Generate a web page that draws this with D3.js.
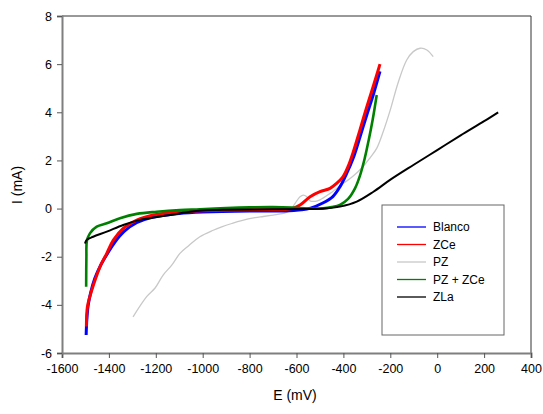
<!DOCTYPE html>
<html>
<head>
<meta charset="utf-8">
<script src="https://cdn.jsdelivr.net/npm/d3@7"></script>
<style>
  body { margin: 0; background: #fff; }
  svg { font-family: "Liberation Sans", Arial, sans-serif; }
</style>
</head>
<body>
<div id="chart"></div>
<script>
// tick values
var xTicks = [-1600, -1400, -1200, -1000, -800, -600, -400, -200, 0, 200, 400];
var yTicks = [-6, -4, -2, 0, 2, 4, 6, 8];

// series: [E (mV), I (mA)]
var blanco = [[-1497,-5.25],[-1494,-4.6],[-1488,-4.0],[-1478,-3.5],[-1460,-2.9],[-1435,-2.35],[-1405,-1.85],[-1375,-1.4],[-1335,-0.95],[-1280,-0.58],[-1210,-0.35],[-1100,-0.2],[-1000,-0.14],[-800,-0.1],[-650,-0.1],[-580,-0.05],[-540,0.02],[-490,0.22],[-445,0.5],[-415,0.9],[-386,1.46],[-358,2.1],[-330,2.95],[-300,3.9],[-272,4.75],[-244,5.7]];
var zce = [[-1496,-4.9],[-1492,-4.1],[-1481,-3.65],[-1459,-2.97],[-1438,-2.42],[-1409,-1.86],[-1381,-1.31],[-1339,-0.82],[-1281,-0.48],[-1211,-0.27],[-1100,-0.13],[-1000,-0.09],[-800,-0.05],[-650,-0.04],[-620,0.0],[-585,0.15],[-542,0.49],[-500,0.7],[-457,0.84],[-429,1.05],[-402,1.32],[-380,1.75],[-358,2.35],[-330,3.25],[-301,4.2],[-272,5.1],[-244,6.0]];
var pz = [[-1297,-4.5],[-1239,-3.66],[-1203,-3.3],[-1168,-2.75],[-1132,-2.35],[-1097,-1.86],[-1061,-1.55],[-1012,-1.17],[-955,-0.9],[-919,-0.76],[-876,-0.62],[-834,-0.5],[-777,-0.38],[-742,-0.33],[-700,-0.27],[-656,-0.2],[-628,-0.09],[-606,0.22],[-585,0.49],[-571,0.56],[-557,0.5],[-542,0.32],[-520,0.3],[-500,0.36],[-457,0.63],[-400,1.05],[-358,1.35],[-315,1.76],[-287,2.1],[-258,2.5],[-230,3.2],[-200,4.1],[-166,5.25],[-130,6.17],[-102,6.52],[-73,6.66],[-44,6.59],[-17,6.31]];
var pzZce = [[-1497,-3.25],[-1496,-2.0],[-1494,-1.35],[-1481,-1.03],[-1452,-0.75],[-1409,-0.61],[-1353,-0.4],[-1281,-0.22],[-1196,-0.13],[-1097,-0.06],[-1012,-0.03],[-900,0.02],[-800,0.05],[-700,0.06],[-620,0.04],[-550,0.0],[-487,0.01],[-450,0.06],[-415,0.15],[-380,0.4],[-350,0.85],[-330,1.35],[-310,2.05],[-292,2.85],[-275,3.7],[-258,4.72]];
var zla = [[-1502,-1.45],[-1495,-1.3],[-1467,-1.17],[-1409,-0.96],[-1339,-0.68],[-1267,-0.47],[-1168,-0.31],[-1054,-0.13],[-1000,-0.08],[-900,-0.05],[-700,-0.03],[-550,-0.02],[-480,0.0],[-415,0.08],[-343,0.29],[-272,0.70],[-201,1.19],[-100,1.82],[0,2.43],[100,3.04],[200,3.63],[260,4.0]];

var seriesNames = ["Blanco", "ZCe", "PZ", "PZ + ZCe", "ZLa"];
var seriesColors = ["#0000ff", "#ff0000", "#c8c8c8", "#008000", "#000000"];

var svgW = 543, svgH = 414;
var margin = {top: 16, right: 12, bottom: 61, left: 62};
var width = 531 - margin.left,
    height = 353 - margin.top;

var svg = d3.select("#chart").append("svg")
    .attr("width", svgW)
    .attr("height", svgH);

var g = svg.append("g")
    .attr("transform", "translate(" + margin.left + "," + margin.top + ")");

var x = d3.scaleLinear().domain([-1600, 400]).range([0, width]);
var y = d3.scaleLinear().domain([-6, 8]).range([height, 0]);

// frame (top and right)
g.append("path")
    .attr("d", "M0,0H" + width + "V" + height)
    .attr("fill", "none")
    .attr("stroke", "#333")
    .attr("stroke-width", 1);

var line = d3.line()
    .x(function(d) { return x(d[0]); })
    .y(function(d) { return y(d[1]); })
    .curve(d3.curveCatmullRom.alpha(0.5));

// draw order: light grey underneath
var drawList = [
    {data: pz, color: seriesColors[2], w: 1.3},
    {data: blanco, color: seriesColors[0], w: 3},
    {data: zce, color: seriesColors[1], w: 3},
    {data: pzZce, color: seriesColors[3], w: 2.6},
    {data: zla, color: seriesColors[4], w: 2}
];
drawList.forEach(function(s) {
    g.append("path")
        .attr("d", line(s.data))
        .attr("fill", "none")
        .attr("stroke", s.color)
        .attr("stroke-width", s.w)
        .attr("stroke-linejoin", "round");
});

// axes (plain hyphen for negatives, like the original)
var fmt = function(d) { return String(d); };
var xAxis = g.append("g")
    .attr("transform", "translate(0," + height + ")")
    .call(d3.axisBottom(x).tickValues(xTicks).tickSize(5).tickPadding(6).tickFormat(fmt));
var yAxis = g.append("g")
    .call(d3.axisLeft(y).tickValues(yTicks).tickSize(5).tickPadding(5).tickFormat(fmt));

[xAxis, yAxis].forEach(function(a) {
    a.select(".domain").attr("stroke", "#7f7f7f").attr("stroke-width", 2);
    a.selectAll(".tick line").attr("stroke", "#555");
    a.selectAll(".tick text")
        .attr("fill", "#000")
        .style("font-family", "'Liberation Sans', Arial, sans-serif")
        .style("font-size", "12.5px");
});

// axis titles
svg.append("text")
    .attr("x", 295).attr("y", 400)
    .attr("text-anchor", "middle")
    .style("font-size", "14px")
    .text("E (mV)");
svg.append("text")
    .attr("transform", "translate(22,185) rotate(-90)")
    .attr("text-anchor", "middle")
    .style("font-size", "14px")
    .text("I (mA)");

// legend
var legend = svg.append("g").attr("transform", "translate(382,205)");
legend.append("rect")
    .attr("width", 122).attr("height", 130)
    .attr("fill", "#fff")
    .attr("stroke", "#666")
    .attr("stroke-width", 1);
seriesNames.forEach(function(name, i) {
    var yy = 22 + i * 17.5;
    legend.append("line")
        .attr("x1", 15).attr("x2", 44)
        .attr("y1", yy).attr("y2", yy)
        .attr("stroke", seriesColors[i])
        .attr("stroke-width", 1.3);
    legend.append("text")
        .attr("x", 51).attr("y", yy + 4)
        .style("font-size", "12px")
        .text(name);
});
</script>
</body>
</html>
